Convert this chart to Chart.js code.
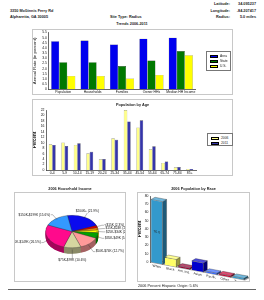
<!DOCTYPE html>
<html><head><meta charset="utf-8">
<script src="https://cdn.jsdelivr.net/npm/chart.js@4.4.1/dist/chart.umd.min.js"></script>
<style>
html,body{margin:0;padding:0;background:#fff;}
body{width:264px;height:300px;position:relative;overflow:hidden;font-family:"Liberation Sans",Arial,sans-serif;}
.t{position:absolute;font-size:3.8px;font-weight:bold;white-space:nowrap;color:#222;line-height:4px;}
.frame{position:absolute;box-sizing:border-box;border:1px solid #c8c8c8;pointer-events:none;}
canvas{position:absolute;}
.lg{position:absolute;box-sizing:border-box;border:1px solid #777;background:#fff;}
.sw{position:absolute;left:3px;width:8px;height:3px;box-sizing:border-box;border:0.5px solid #000;}
.lt{position:absolute;left:13px;font-size:3.3px;line-height:3px;white-space:nowrap;color:#222;}
</style></head><body>

<div class="t" style="left:10px;top:9px">3350 McGinnis Ferry Rd</div>
<div class="t" style="left:10px;top:15px">Alpharetta, GA 30005</div>
<div class="t" style="left:110px;top:15px">Site Type: Radius</div>
<div class="t" style="right:34px;top:2px">Latitude:</div>
<div class="t" style="right:34px;top:9px">Longitude:</div>
<div class="t" style="right:34px;top:15px">Radius:</div>
<div class="t" style="right:8px;top:2px">34.095237</div>
<div class="t" style="right:8px;top:9px">-84.207417</div>
<div class="t" style="right:8px;top:15px">5.0 miles</div>

<div class="t" style="left:0;width:264px;text-align:center;top:22px">Trends 2006-2011</div>
<canvas id="c1" width="201" height="65" style="left:32px;top:29px"></canvas>
<div class="frame" style="left:32px;top:29px;width:201px;height:66px"></div>
<div class="lg" style="left:206px;top:51px;width:25px;height:20px">
  <div class="sw" style="top:2.5px;background:#0000ee"></div><div class="lt" style="top:2.5px">Area</div>
  <div class="sw" style="top:7.5px;background:#007800"></div><div class="lt" style="top:7.5px">State</div>
  <div class="sw" style="top:12.5px;background:#ffff00"></div><div class="lt" style="top:12.5px">U.S.</div>
</div>

<div class="t" style="left:32px;width:201px;text-align:center;top:103px">Population by Age</div>
<canvas id="c2" width="201" height="75" style="left:32px;top:100px"></canvas>
<div class="frame" style="left:32px;top:99px;width:201px;height:77px"></div>
<div class="lg" style="left:207px;top:133px;width:26px;height:13px">
  <div class="sw" style="top:2.5px;background:#ffff88"></div><div class="lt" style="top:2.5px">2006</div>
  <div class="sw" style="top:7.5px;background:#3535aa"></div><div class="lt" style="top:7.5px">2011</div>
</div>

<div class="t" style="left:14px;width:112px;text-align:center;top:187px">2006 Household Income</div>
<canvas id="c3" width="112" height="90" style="left:14px;top:192px"></canvas>
<div class="frame" style="left:14px;top:192px;width:112px;height:90px"></div>

<div class="t" style="left:137px;width:113px;text-align:center;top:187px">2006 Population by Race</div>
<canvas id="c4" width="113" height="90" style="left:137px;top:192px"></canvas>
<div class="frame" style="left:137px;top:192px;width:113px;height:90px"></div>
<div class="t" style="left:138px;top:284px;font-weight:normal">2006 Percent Hispanic Origin: 5.6%</div>
<div style="position:absolute;left:8px;top:289px;width:248px;height:1px;background:#666"></div>

<script>
// ---------- data ----------
const trendCategories = ['Population','Households','Families','Owner HHs','Median HH Income'];
const trendArea  = [4.66, 4.72, 4.35, 4.91, 5.00];
const trendState = [2.62, 2.62, 2.25, 2.78, 3.70];
const trendUS    = [1.30, 1.30, 1.05, 1.39, 3.30];

const ageCategories = ['0-4','5-9','10-14','15-19','20-24','25-34','35-44','45-54','55-64','65-74','75-84','85+'];
const age2006 = [9.4, 10.1, 9.2, 6.1, 3.9, 11.6, 22.0, 15.6, 7.6, 2.6, 1.0, 0.4];
const age2011 = [9.2, 8.8, 9.8, 6.7, 4.0, 11.1, 17.8, 18.2, 8.7, 3.1, 1.1, 0.4];

const incomeLabels = ['$200K+','<$15K','$15K-$24K','$25K-$34K','$35K-$49K','$50K-$74K','$75K-$99K','$100K-$149K','$150K-$199K'];
const incomeShares = [21.9, 2.3, 2.1, 2.7, 5.6, 12.7, 10.6, 26.5, 15.6];

const raceLabels = ['White','Black','Am. Ind.','Asian','Pacific','Other','Two+'];
const raceShares = [76.0, 9.0, 0.3, 11.0, 0.1, 1.8, 1.8];

// ---------- styles ----------
const incomeColors = ['#0a0aee','#e00000','#ff9900','#ffff00','#00a000','#ff9999','#d6d6a0','#ff0a8c','#3399ff'];
const raceColors = ['#3399cc','#ffff66','#990033','#0000cc','#3366ff','#cc0033','#3399cc'];

Chart.defaults.animation = false;
Chart.defaults.font.family = '"Liberation Sans", Arial, sans-serif';
Chart.defaults.color = '#111';
Chart.defaults.events = [];
Chart.defaults.plugins.legend.display = false;
Chart.defaults.plugins.tooltip.enabled = false;

function shade(hex, f){
  const n = parseInt(hex.slice(1),16);
  let r=(n>>16)&255, g=(n>>8)&255, b=n&255;
  if(f<0){ r*=1+f; g*=1+f; b*=1+f; } else { r+= (255-r)*f; g+=(255-g)*f; b+=(255-b)*f; }
  return `rgb(${r|0},${g|0},${b|0})`;
}
const axisBorder = {display:true, color:'#444', width:0.8};
const noGrid = {display:false, drawTicks:false, tickLength:0};
const TF = 3.4;

// ---------- Trends ----------
new Chart(document.getElementById('c1'), {
  type:'bar',
  data:{labels:trendCategories, datasets:[
    {label:'Area', data:trendArea, backgroundColor:'#0000ee', borderColor:'#111', borderWidth:0.3},
    {label:'State', data:trendState, backgroundColor:'#007800', borderColor:'#111', borderWidth:0.3},
    {label:'U.S.', data:trendUS, backgroundColor:'#ffff00', borderColor:'#111', borderWidth:0.3}
  ]},
  options:{
    responsive:false, devicePixelRatio:1,
    layout:{padding:{left:0,right:37.5,top:1,bottom:0}},
    datasets:{bar:{categoryPercentage:0.82, barPercentage:1}},
    scales:{
      x:{grid:noGrid, border:axisBorder,
         ticks:{font:{size:TF}, padding:0.8, maxRotation:0, autoSkip:false},
         afterFit(s){ s.height = 4.7; }},
      y:{min:0, max:5.5, grid:noGrid, border:axisBorder,
         ticks:{stepSize:0.5, font:{size:TF}, padding:1.5, autoSkip:false},
         title:{display:true, text:'Annual Rate (in percent)', font:{size:4.3}, padding:0},
         afterFit(s){ s.width = 16.5; }}
    }
  }
});

// ---------- Population by Age ----------
new Chart(document.getElementById('c2'), {
  type:'bar',
  data:{labels:ageCategories, datasets:[
    {label:'2006', data:age2006, backgroundColor:'#ffff88', borderColor:'#555', borderWidth:0.4},
    {label:'2011', data:age2011, backgroundColor:'#3535aa', borderColor:'#222', borderWidth:0.4}
  ]},
  options:{
    responsive:false, devicePixelRatio:1,
    layout:{padding:{left:0,right:37,top:10,bottom:0}},
    datasets:{bar:{categoryPercentage:0.55, barPercentage:1}},
    scales:{
      x:{grid:noGrid, border:axisBorder,
         ticks:{font:{size:TF}, padding:0.8, maxRotation:0, autoSkip:false},
         afterFit(s){ s.height = 5; }},
      y:{min:0, max:22, grid:noGrid, border:axisBorder,
         ticks:{stepSize:2, font:{size:TF}, padding:1.5, autoSkip:false},
         title:{display:true, text:'Percent', font:{size:4.5, weight:'bold'}, padding:0},
         afterFit(s){ s.width = 14; }}
    }
  }
});

// ---------- Household Income (3D pie) ----------
const SQ = 0.62, PDEPTH = 6;
const pie3d = {
  id:'pie3d',
  beforeDatasetsDraw(chart){
    const ctx = chart.ctx, arcs = chart.getDatasetMeta(0).data;
    const cx = arcs[0].x, cy = arcs[0].y;
    ctx.save();
    ctx.translate(cx, cy); ctx.scale(1, SQ); ctx.translate(-cx, -cy);
    for(let d = PDEPTH; d > 0; d -= 0.5){
      arcs.forEach((a,i)=>{
        ctx.beginPath();
        ctx.moveTo(cx, cy + d/SQ);
        ctx.arc(cx, cy + d/SQ, a.outerRadius, a.startAngle, a.endAngle);
        ctx.closePath();
        ctx.fillStyle = shade(incomeColors[i], -0.35);
        ctx.fill();
      });
    }
  },
  afterDatasetsDraw(chart){
    const ctx = chart.ctx;
    ctx.restore();
    const arcs = chart.getDatasetMeta(0).data;
    const cx = arcs[0].x, cy = arcs[0].y, R = arcs[0].outerRadius;
    const items = arcs.map((a,i)=>{
      const m = (a.startAngle + a.endAngle)/2;
      const c = Math.cos(m), s = Math.sin(m);
      const dep = s > 0 ? PDEPTH*s : 0;
      return {i, c, s,
        ex: cx + R*c*0.92, ey: cy + R*SQ*s*0.92 + dep*0.5,
        lx: cx + (R+5)*c, ly: cy + (R*SQ+5)*s + dep,
        text: `${incomeLabels[i]} (${incomeShares[i].toFixed(1)}%)`};
    });
    const right = items.filter(o=>o.c>=0.55).sort((a,b)=>a.ly-b.ly);
    for(let k=1;k<right.length;k++) if(right[k].ly < right[k-1].ly+3.3) right[k].ly = right[k-1].ly+3.3;
    ctx.save();
    ctx.font = '3.2px "Liberation Sans", Arial, sans-serif';
    ctx.fillStyle = '#111'; ctx.strokeStyle = '#333'; ctx.lineWidth = 0.35;
    ctx.textBaseline = 'middle';
    items.forEach(o=>{
      ctx.beginPath(); ctx.moveTo(o.ex, o.ey); ctx.lineTo(o.lx, o.ly);
      if(Math.abs(o.c) < 0.55){ ctx.stroke(); ctx.textAlign='center';
        ctx.fillText(o.text, o.lx, o.ly + (o.s<0?-1.6:1.6)); return; }
      const tail = o.c>0 ? 2 : -2;
      ctx.lineTo(o.lx+tail, o.ly); ctx.stroke();
      ctx.textAlign = o.c>0 ? 'left' : 'right';
      ctx.fillText(o.text, o.lx + tail + (o.c>0?0.6:-0.6), o.ly);
    });
    ctx.restore();
  }
};
new Chart(document.getElementById('c3'), {
  type:'pie',
  data:{labels:incomeLabels, datasets:[{data:incomeShares, backgroundColor:incomeColors, borderColor:'#333', borderWidth:0.4, clip:false}]},
  options:{responsive:false, devicePixelRatio:1, rotation:-10,
    layout:{padding:{left:31,right:27,top:13,bottom:24}}},
  plugins:[pie3d]
});

// ---------- Population by Race (3D bars) ----------
const SK = 0.19, DX = 4, DY = -3;
const race3d = {
  id:'race3d',
  beforeDatasetsDraw(chart){
    const ctx = chart.ctx, ca = chart.chartArea;
    ctx.save();
    ctx.transform(1, SK, 0, 1, 0, -SK*ca.left);
    ctx.beginPath();
    ctx.moveTo(ca.left, ca.bottom); ctx.lineTo(ca.right, ca.bottom);
    ctx.lineTo(ca.right+DX, ca.bottom+DY); ctx.lineTo(ca.left+DX, ca.bottom+DY); ctx.closePath();
    ctx.fillStyle = '#e6e6e6'; ctx.fill();
    ctx.strokeStyle = '#555'; ctx.lineWidth = 0.5; ctx.stroke();
    const bars = chart.getDatasetMeta(0).data;
    bars.forEach((b,i)=>{
      const l = b.x - b.width/2, r = b.x + b.width/2, t = b.y, bt = b.base;
      ctx.lineWidth = 0.3; ctx.strokeStyle = '#222';
      ctx.beginPath(); ctx.moveTo(r,t); ctx.lineTo(r+DX,t+DY); ctx.lineTo(r+DX,bt+DY); ctx.lineTo(r,bt); ctx.closePath();
      ctx.fillStyle = shade(raceColors[i], -0.4); ctx.fill(); ctx.stroke();
      ctx.beginPath(); ctx.moveTo(l,t); ctx.lineTo(l+DX,t+DY); ctx.lineTo(r+DX,t+DY); ctx.lineTo(r,t); ctx.closePath();
      ctx.fillStyle = shade(raceColors[i], 0.3); ctx.fill(); ctx.stroke();
    });
  },
  afterDatasetsDraw(chart){
    const ctx = chart.ctx, ca = chart.chartArea;
    const bars = chart.getDatasetMeta(0).data;
    ctx.font = '3.5px "Liberation Sans", Arial, sans-serif';
    ctx.textAlign = 'center'; ctx.textBaseline = 'middle';
    ctx.fillStyle = '#222';
    const b0 = bars[0];
    ctx.fillText(raceShares[0].toFixed(1), b0.x, (b0.y + b0.base)/2);
    ctx.font = '3.3px "Liberation Sans", Arial, sans-serif';
    ctx.textBaseline = 'top';
    const xs = chart.scales.x;
    raceLabels.forEach((lab,i)=>{ ctx.fillText(lab, xs.getPixelForValue(i), ca.bottom + 1.5); });
    ctx.restore();
  }
};
new Chart(document.getElementById('c4'), {
  type:'bar',
  data:{labels:raceLabels, datasets:[{data:raceShares, backgroundColor:raceColors, borderColor:'#222', borderWidth:0.3, clip:false, minBarLength:1.5}]},
  options:{
    responsive:false, devicePixelRatio:1,
    layout:{padding:{left:0,right:5,top:4,bottom:20}},
    datasets:{bar:{categoryPercentage:0.85, barPercentage:1}},
    scales:{
      x:{display:false},
      y:{min:0, max:80, grid:noGrid, border:axisBorder,
         ticks:{stepSize:10, font:{size:TF}, padding:1.5, autoSkip:false},
         title:{display:true, text:'Percent', font:{size:4.5, weight:'bold'}, padding:0},
         afterFit(s){ s.width = 13; }}
    }
  },
  plugins:[race3d]
});
</script>
</body></html>
